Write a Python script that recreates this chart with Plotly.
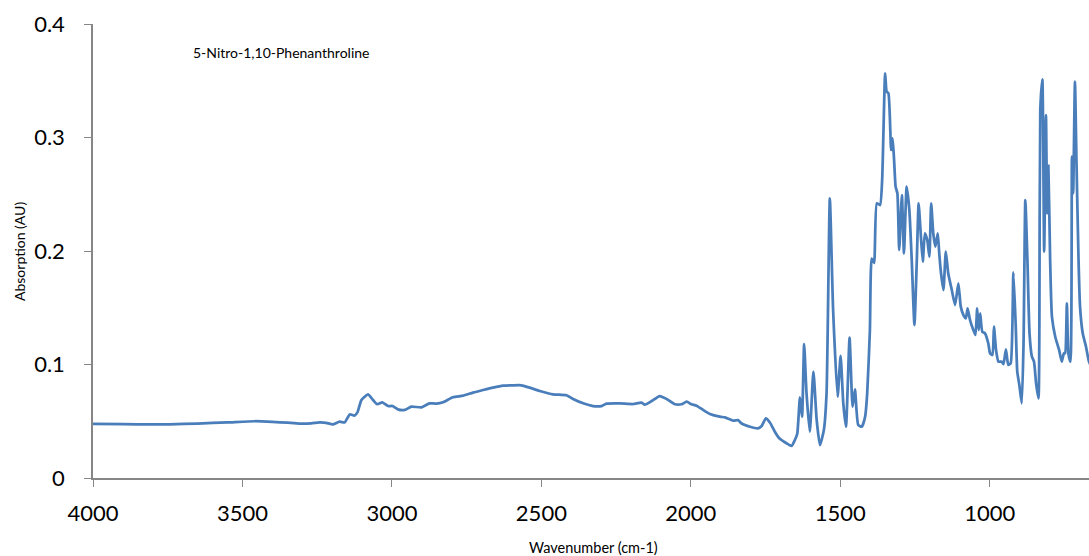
import plotly.graph_objects as go

# Wavenumber (cm-1) and absorbance (AU)
wavenumber = [
    4000, 3900, 3800, 3744, 3650, 3550, 3459, 3400, 3350, 3309, 3270, 3242, 3220, 3198,
    3175, 3158, 3141, 3125, 3115, 3102, 3080, 3064, 3049, 3032, 3013, 2998, 2980, 2957,
    2935, 2901, 2874, 2851, 2829, 2796, 2762, 2729, 2695, 2662, 2628, 2595, 2567, 2539,
    2505, 2461, 2416, 2394, 2360, 2327, 2299, 2282, 2238, 2193, 2165, 2154, 2131, 2104,
    2081, 2053, 2031, 2014, 1998, 1981, 1959, 1936, 1903, 1886, 1858, 1842, 1830, 1802,
    1775, 1763, 1749, 1735, 1719, 1704, 1680, 1663, 1652, 1644, 1635, 1628, 1621, 1613,
    1602, 1590, 1579, 1568, 1555, 1546, 1535, 1524, 1509, 1499, 1490, 1481, 1469, 1459,
    1451, 1440, 1428, 1417, 1410, 1401, 1395, 1387, 1378, 1367, 1360, 1350, 1345, 1339,
    1330, 1325, 1320, 1315, 1309, 1303, 1294, 1287, 1278, 1269, 1261, 1252, 1244, 1238,
    1231, 1224, 1217, 1209, 1202, 1196, 1189, 1182, 1174, 1169, 1163, 1155, 1147, 1139,
    1127, 1116, 1105, 1097, 1088, 1080, 1074, 1066, 1055, 1048, 1042, 1037, 1032, 1025,
    1016, 1005, 999, 991, 986, 979, 971, 960, 954, 946, 938, 930, 921, 913, 908, 901,
    893, 887, 881, 874, 867, 859, 852, 845, 837, 834, 831, 824, 818, 812, 808, 804, 798,
    792, 781, 768, 759, 752, 748, 742, 737, 730, 725, 721, 715, 710, 703, 698, 689, 678,
    668, 655,
]
absorbance = [
    0.0478, 0.0474, 0.0472, 0.0473, 0.0480, 0.0490, 0.0500, 0.0495, 0.0487, 0.0480, 0.0482, 0.0490, 0.0486, 0.0472,
    0.0496, 0.0490, 0.0560, 0.0550, 0.0580, 0.0687, 0.0737, 0.0690, 0.0650, 0.0667, 0.0634, 0.0634, 0.0605, 0.0600,
    0.0628, 0.0623, 0.0658, 0.0655, 0.0667, 0.0711, 0.0725, 0.0752, 0.0775, 0.0796, 0.0813, 0.0817, 0.0817, 0.0796,
    0.0767, 0.0737, 0.0729, 0.0696, 0.0658, 0.0634, 0.0634, 0.0655, 0.0658, 0.0652, 0.0664, 0.0646, 0.0678, 0.0722,
    0.0696, 0.0650, 0.0650, 0.0672, 0.0650, 0.0637, 0.0600, 0.0564, 0.0540, 0.0534, 0.0505, 0.0510, 0.0480, 0.0452,
    0.0438, 0.0458, 0.0526, 0.0487, 0.0408, 0.0350, 0.0306, 0.0282, 0.0335, 0.0390, 0.0711, 0.0540, 0.1180, 0.0746,
    0.0408, 0.0937, 0.0511, 0.0290, 0.0423, 0.0746, 0.2464, 0.1480, 0.0717, 0.1075, 0.0658, 0.0452, 0.1236, 0.0628,
    0.0781, 0.0467, 0.0452, 0.0540, 0.0746, 0.1300, 0.1933, 0.1895, 0.2420, 0.2405, 0.2625, 0.3566, 0.3404, 0.3390,
    0.2890, 0.2993, 0.2800, 0.2567, 0.2508, 0.2009, 0.2493, 0.1980, 0.2567, 0.2361, 0.1920, 0.1348, 0.1920, 0.2420,
    0.2156, 0.1906, 0.2156, 0.2097, 0.1950, 0.2420, 0.2156, 0.2038, 0.2156, 0.1980, 0.1804, 0.1656, 0.1994, 0.1804,
    0.1656, 0.1524, 0.1715, 0.1510, 0.1436, 0.1407, 0.1495, 0.1392, 0.1304, 0.1260, 0.1495, 0.1304, 0.1451, 0.1289,
    0.1275, 0.1187, 0.1099, 0.1084, 0.1333, 0.1128, 0.1025, 0.1025, 0.1004, 0.1134, 0.0996, 0.1010, 0.1812, 0.1333, 0.0937, 0.0819,
    0.0658, 0.1187, 0.2449, 0.1920, 0.1275, 0.1069, 0.1025, 0.0834, 0.0702, 0.1333, 0.3242, 0.3513, 0.1994, 0.3198, 0.2332, 0.2749, 0.1920,
    0.1421, 0.1245, 0.1128, 0.1025, 0.1099, 0.1099, 0.1539, 0.1099, 0.1025, 0.2831, 0.2508, 0.3492, 0.2800, 0.1920, 0.1510, 0.1275, 0.1157,
    0.1025, 0.0950,
]

x_ticks = [4000, 3500, 3000, 2500, 2000, 1500, 1000]
y_ticks = [0, 0.1, 0.2, 0.3, 0.4]
y_tick_text = ["0", "0.1", "0.2", "0.3", "0.4"]

FONT = "Lato"
AXIS_GREY = "#868686"

fig = go.Figure()
fig.add_trace(go.Scatter(
    x=wavenumber, y=absorbance, mode="lines",
    line=dict(color="#4A7EBB", width=2.75, shape="spline", smoothing=0.5),
    showlegend=False, hoverinfo="skip",
))

fig.update_layout(
    width=1089, height=556,
    margin=dict(l=93, r=0, t=24, b=78),
    paper_bgcolor="white", plot_bgcolor="white",
    font=dict(family=FONT, color="black"),
    xaxis=dict(
        range=[4000, 668], tickmode="array", tickvals=x_ticks,
        ticks="outside", ticklen=7, tickwidth=1, tickcolor=AXIS_GREY,
        showline=True, linecolor=AXIS_GREY, linewidth=1.5,
        showgrid=False, zeroline=False,
        tickfont=dict(family=FONT, size=22, color="black"),
        ticklabelstandoff=8,
    ),
    yaxis=dict(
        range=[0, 0.4], tickmode="array", tickvals=y_ticks, ticktext=y_tick_text,
        ticks="outside", ticklen=7, tickwidth=1, tickcolor=AXIS_GREY,
        showline=True, linecolor=AXIS_GREY, linewidth=1.5,
        showgrid=False, zeroline=False,
        tickfont=dict(family=FONT, size=22, color="black"),
        ticklabelstandoff=15,
    ),
    annotations=[
        dict(text="5-Nitro-1,10-Phenanthroline", xref="paper", yref="paper",
             x=0.1885, y=0.938, xanchor="center", yanchor="middle", showarrow=False,
             font=dict(family=FONT, size=14, color="black")),
        dict(text="Absorption (AU)", xref="paper", yref="paper",
             x=-0.0743, y=0.5, xanchor="center", yanchor="middle", showarrow=False,
             textangle=-90, font=dict(family=FONT, size=14, color="black")),
        dict(text="Wavenumber (cm-1)", xref="paper", yref="paper",
             x=0.503, y=-0.152, xanchor="center", yanchor="middle", showarrow=False,
             font=dict(family=FONT, size=14.5, color="black")),
    ],
)

fig.write_html("out.html")
